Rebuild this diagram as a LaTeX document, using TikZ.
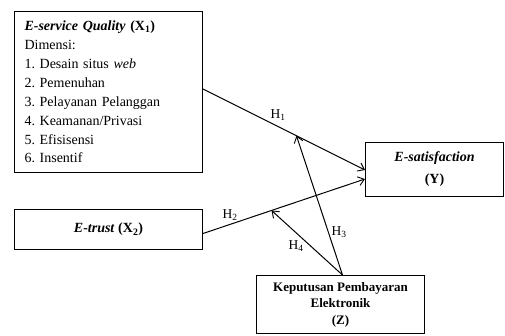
\documentclass[tikz,border=0pt]{standalone}
\usepackage{fontspec}
\setmainfont{Liberation Serif}
\usetikzlibrary{arrows.meta,calc}
\frenchspacing
\begin{document}
\begin{tikzpicture}[x=1pt,y=-1pt,
  box/.style={draw,line width=1pt,rectangle,inner sep=0pt},
  arr/.style={line width=1pt,-{Straight Barb[length=6pt,width=9pt,line width=0.9pt]}},
  hlab/.style={font=\fontsize{13.5}{15}\selectfont,inner sep=0pt}]
\useasboundingbox (0,0) rectangle (505,335);
% X1 box
\node[box,anchor=north west,minimum width=188pt,minimum height=161pt,text width=168pt,align=left,
  font=\fontsize{14}{18.9}\selectfont] (x1) at (14,11)
  {\textbf{\textit{E-service Quality}} \textbf{(X\textsubscript{1})}\\
   Dimensi:\\
   1. Desain situs \textit{web}\\
   2. Pemenuhan\\
   3. Pelayanan Pelanggan\\
   4. Keamanan/Privasi\\
   5. Efisisensi\\
   6. Insentif};
% X2 box
\node[box,anchor=north west,minimum width=188pt,minimum height=40pt,font=\fontsize{14}{16}\selectfont] (x2) at (14,209)
  {\textbf{\textit{E-trust}} \textbf{(X\textsubscript{2})}};
% Y box
\node[box,anchor=north west,minimum width=138pt,minimum height=54pt,align=center,font=\fontsize{14}{22}\selectfont] (y) at (365,142)
  {\textbf{\textit{E-satisfaction}}\\\textbf{(Y)}};
% Z box
\node[box,anchor=north west,minimum width=168pt,minimum height=58pt,align=center,font=\fontsize{13}{16.5}\selectfont] (z) at (256,275)
  {\textbf{Keputusan Pembayaran}\\\textbf{Elektronik}\\\textbf{(Z)}};
% connector end points
\coordinate (p1) at ([yshift=-78pt]x1.north east);
\coordinate (q1) at ([yshift=-28pt]y.north west);
\coordinate (p2) at ([yshift=-4pt]x2.east);
\coordinate (q2) at ([yshift=-37pt]y.north west);
\coordinate (zt) at ([xshift=2pt]z.north);
\coordinate (m1) at ($(p1)!0.577!(q1)$);
\coordinate (m2) at ($(p2)!0.423!(q2)$);
\draw[arr] (p1) -- (q1);
\draw[arr] (p2) -- (q2);
\draw[arr] (zt) -- (m1);
\draw[arr] (zt) -- (m2);
% labels
\node[hlab] (h1) at (278,115) {H\textsubscript{1}};
\node[hlab] (h2) at (230,215) {H\textsubscript{2}};
\node[hlab] (h3) at (339,232) {H\textsubscript{3}};
\node[hlab] (h4) at (296,246) {H\textsubscript{4}};
\end{tikzpicture}
\end{document}
